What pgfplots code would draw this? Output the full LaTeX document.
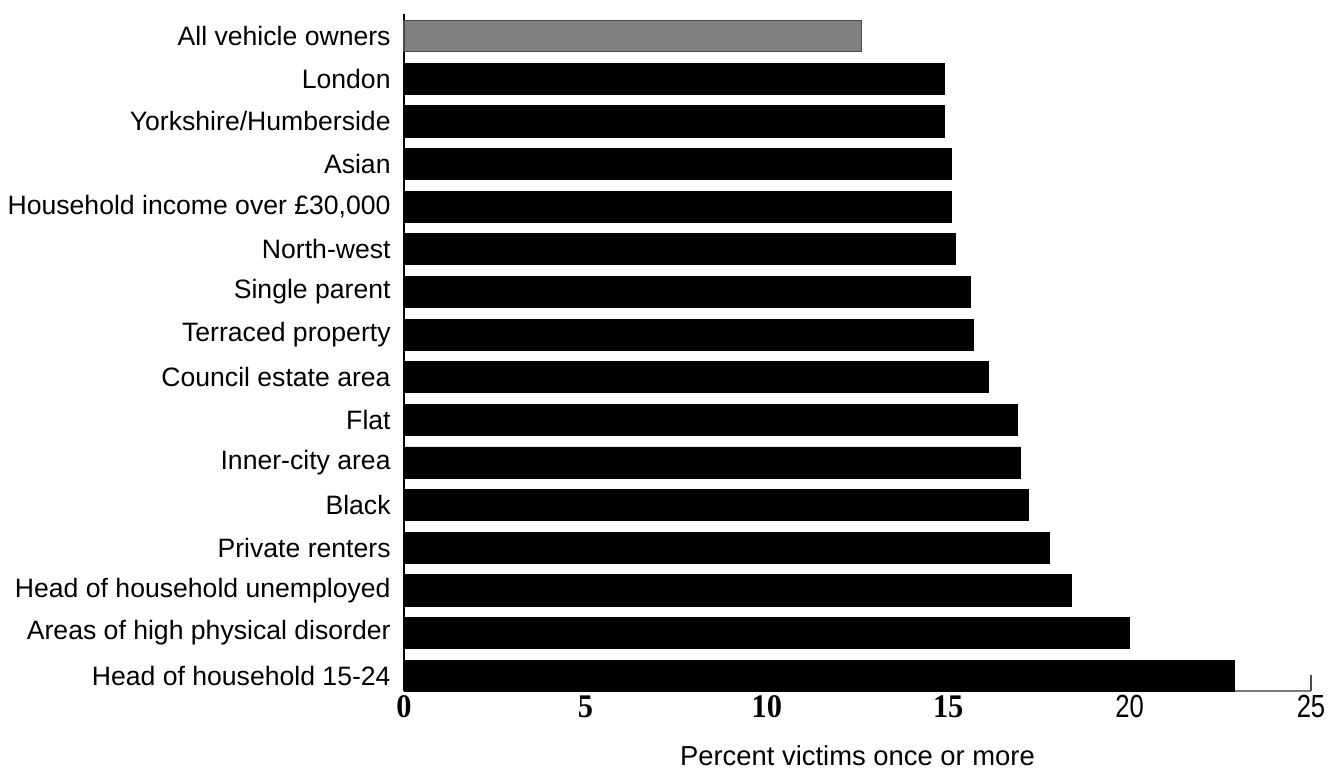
\documentclass[border=0pt]{standalone}
\usepackage{graphicx}
\usepackage{pgfplots}
\pgfplotsset{compat=1.18}
\usepackage{fontspec}
\setmainfont{Liberation Sans}
\newfontfamily\tnr{Liberation Serif}
\definecolor{barblack}{HTML}{000000}
\definecolor{bargray}{HTML}{808080}
\definecolor{bordergray}{HTML}{4A4A4A}
\definecolor{axgray}{HTML}{7A7A7A}
\newcommand{\bnum}[1]{{\fontsize{16.5}{16.5}\selectfont\tnr\bfseries\scalebox{0.92}[1]{#1}}}
\newcommand{\snum}[1]{{\fontsize{16}{16}\selectfont\scalebox{0.8}[1]{#1}}}
\begin{document}
\begin{tikzpicture}
\path[use as bounding box] (-202pt,-41pt) rectangle (462.5pt,345.5pt);
\begin{axis}[
  at={(0,0)}, anchor=south west,
  scale only axis,
  width=453.5pt, height=338.5pt,
  xmin=0, xmax=25,
  ymin=-0.36, ymax=15.52,
  axis x line*=bottom,
  axis y line*=left,
  x axis line style={draw=axgray, line width=1.1pt, -},
  y axis line style={draw=black, line width=0.8pt, -},
  xtick={0,5,10,15,20},
  xticklabels={\bnum{0},\bnum{5},\bnum{10},\bnum{15},\snum{20}},
  extra x ticks={25},
  extra x tick labels={\snum{25}},
  extra x tick style={major tick length=8pt, tick style={draw=axgray, line width=1.2pt}},
  xtick align=inside,
  major tick length=2.5pt,
  x tick style={draw=black!70, line width=0.6pt},
  xticklabel style={anchor=north, inner sep=0pt, yshift=-2pt},
  ytick={0,...,15},
  yticklabels={Head of household 15-24,Areas of high physical disorder,Head of household unemployed,Private renters,Black,Inner-city area,Flat,Council estate area,Terraced property,Single parent,North-west,Household income over \pounds30{,}000,Asian,Yorkshire/Humberside,London,All vehicle owners},
  y tick style={draw=none},
  yticklabel style={font=\fontsize{13.3}{15}\selectfont, anchor=east, inner sep=0pt, xshift=-4pt},
  xlabel={Percent victims once or more},
  xlabel style={font=\fontsize{13.7}{15}\selectfont, at={(axis description cs:0.5,0)}, anchor=north, inner sep=0pt, yshift=-27pt},
  xbar, bar width=0.73,
  clip=false,
]
\addplot[xbar, bar shift=0pt, fill=bargray, draw=bordergray, line width=0.6pt] coordinates {(12.6,15)};
\addplot[xbar, bar shift=0pt, fill=barblack, draw=barblack] coordinates {
(22.9,0) (20.0,1) (18.4,2) (17.8,3) (17.2,4) (17.0,5) (16.9,6) (16.1,7)
(15.7,8) (15.6,9) (15.2,10) (15.1,11) (15.1,12) (14.9,13) (14.9,14)
};
\end{axis}
\end{tikzpicture}
\end{document}
